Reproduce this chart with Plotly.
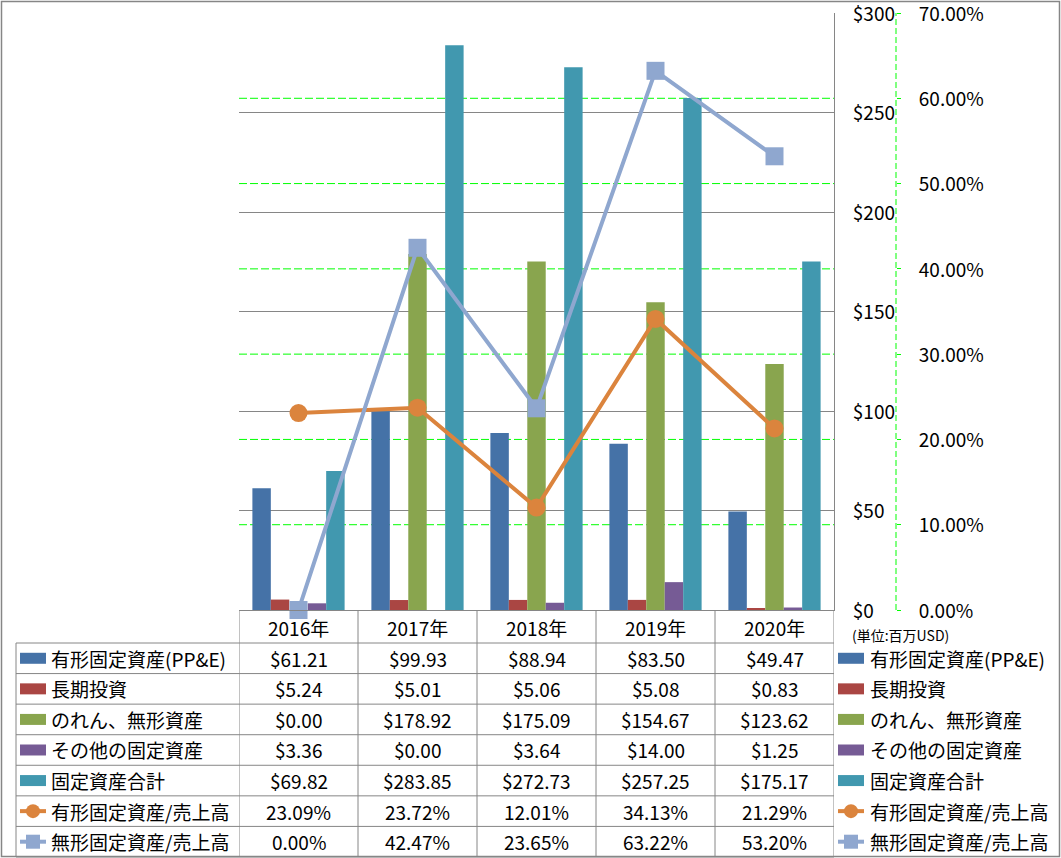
import plotly.graph_objects as go

# ---------------- data ----------------
years = ["2016年", "2017年", "2018年", "2019年", "2020年"]
ppe = [61.21, 99.93, 88.94, 83.50, 49.47]
long_inv = [5.24, 5.01, 5.06, 5.08, 0.83]
goodwill = [0.00, 178.92, 175.09, 154.67, 123.62]
other_fixed = [3.36, 0.00, 3.64, 14.00, 1.25]
total_fixed = [69.82, 283.85, 272.73, 257.25, 175.17]
ppe_ratio = [0.2309, 0.2372, 0.1201, 0.3413, 0.2129]
intang_ratio = [0.0000, 0.4247, 0.2365, 0.6322, 0.5320]

bar_names = ["有形固定資産(PP&E)", "長期投資", "のれん、無形資産", "その他の固定資産", "固定資産合計"]
line_names = ["有形固定資産/売上高", "無形固定資産/売上高"]
unit_label = "(単位:百万USD)"
usd_ticks = [0, 50, 100, 150, 200, 250, 300]
pct_ticks = [0.0, 0.1, 0.2, 0.3, 0.4, 0.5, 0.6, 0.7]

# ---------------- style ----------------
W, H = 1061, 858
bar_colors = ["#4572A7", "#AA4643", "#89A54E", "#765B95", "#4198AF"]
line_colors = ["#DB843D", "#8FA7CF"]
GRID = "#868686"
GREEN = "#00FF00"
FONT = "Noto Sans CJK JP"
FS = 19


def px(x):
    return x / W


def py(y):
    return 1 - y / H


PLOT_L, PLOT_R, PLOT_T, PLOT_B = 239, 834, 13, 610

fig = go.Figure()

bar_series = [ppe, long_inv, goodwill, other_fixed, total_fixed]
for name, vals, col in zip(bar_names, bar_series, bar_colors):
    fig.add_trace(go.Bar(x=years, y=vals, name=name, marker=dict(color=col, line=dict(width=0)),
                         hoverinfo="name+y"))

line_series = [ppe_ratio, intang_ratio]
symbols = ["circle", "square"]
for name, vals, col, sym in zip(line_names, line_series, line_colors, symbols):
    fig.add_trace(go.Scatter(x=years, y=vals, name=name, yaxis="y2", mode="lines+markers",
                             line=dict(color=col, width=4),
                             marker=dict(symbol=sym, size=18, color=col, line=dict(width=0)),
                             cliponaxis=False))

shapes = []
annotations = []

# secondary-axis gridlines (green dashed) drawn beneath the data
for t in pct_ticks[1:-1]:
    shapes.append(dict(type="line", xref="x", yref="y2", x0=-0.5, x1=4.5, y0=t, y1=t, layer="below",
                       line=dict(color=GREEN, width=1, dash="8px,3px")))
# secondary axis dashed line
shapes.append(dict(type="line", xref="paper", yref="y2", x0=px(896), x1=px(896), y0=0, y1=0.7,
                   line=dict(color=GREEN, width=1, dash="6px,3px")))

# ---------------- data table ----------------
HEADER_TOP = 611
ROW_TOP = 643
ROW_H = 30.57
n_rows = len(bar_names) + len(line_names)
TABLE_BOTTOM = ROW_TOP + n_rows * ROW_H

for i in range(len(years) + 1):
    shapes.append(dict(type="line", xref="x", yref="paper", x0=i - 0.5, x1=i - 0.5,
                       y0=py(HEADER_TOP), y1=py(TABLE_BOTTOM), line=dict(color=GRID, width=1)))
shapes.append(dict(type="line", xref="paper", yref="paper", x0=px(16), x1=px(16),
                   y0=py(ROW_TOP), y1=py(TABLE_BOTTOM), line=dict(color=GRID, width=1)))
for r in range(n_rows + 1):
    yy = ROW_TOP + r * ROW_H
    shapes.append(dict(type="line", xref="paper", yref="paper", x0=px(16), x1=px(PLOT_R),
                       y0=py(yy), y1=py(yy), line=dict(color=GRID, width=1)))

for i, yr in enumerate(years):
    annotations.append(dict(x=i, y=py((HEADER_TOP + ROW_TOP) / 2), xref="x", yref="paper",
                            text=yr, showarrow=False, xanchor="center", yanchor="middle",
                            font=dict(family=FONT, size=FS, color="black")))

all_names = bar_names + line_names
all_vals = bar_series + line_series
all_colors = bar_colors + line_colors
for r, (name, vals, col) in enumerate(zip(all_names, all_vals, all_colors)):
    cy = ROW_TOP + (r + 0.5) * ROW_H
    is_line = r >= len(bar_names)
    for i, v in enumerate(vals):
        txt = f"{v * 100:.2f}%" if is_line else f"${v:.2f}"
        annotations.append(dict(x=i, y=py(cy), xref="x", yref="paper", text=txt, showarrow=False,
                                xanchor="center", yanchor="middle",
                                font=dict(family=FONT, size=FS, color="black")))
    for kx, tx in ((20, 49), (838, 868)):
        annotations.append(dict(x=px(tx), y=py(cy), xref="paper", yref="paper", text=name,
                                showarrow=False, xanchor="left", yanchor="middle",
                                font=dict(family=FONT, size=FS, color="black")))
        if not is_line:
            shapes.append(dict(type="rect", xref="paper", yref="paper", x0=px(kx), x1=px(kx + 26),
                               y0=py(cy - 5.5), y1=py(cy + 5.5), fillcolor=col, line=dict(width=0)))
        else:
            shapes.append(dict(type="line", xref="paper", yref="paper", x0=px(kx), x1=px(kx + 26),
                               y0=py(cy), y1=py(cy), line=dict(color=col, width=4)))
            mtype = "circle" if r == len(bar_names) else "rect"
            shapes.append(dict(type=mtype, xref="paper", yref="paper", x0=px(kx + 6), x1=px(kx + 20),
                               y0=py(cy + 7), y1=py(cy - 7), fillcolor=col, line=dict(width=0)))

annotations.append(dict(x=px(850), y=py(634.5), xref="paper", yref="paper", text=unit_label,
                        showarrow=False, xanchor="left", yanchor="middle",
                        font=dict(family=FONT, size=14, color="black")))

shapes.append(dict(type="rect", xref="paper", yref="paper", x0=px(1.5), x1=px(1059.5),
                   y0=py(1.5), y1=py(856.5), line=dict(color=GRID, width=1.5)))

fig.update_layout(
    template="none",
    width=W, height=H, autosize=False,
    margin=dict(l=0, r=0, t=0, b=0, pad=0),
    paper_bgcolor="white", plot_bgcolor="white",
    showlegend=False,
    barmode="group", bargap=0.225, bargroupgap=0,
    font=dict(family=FONT, size=FS, color="black"),
    xaxis=dict(domain=[px(PLOT_L), px(PLOT_R)], type="category", range=[-0.5, 4.5],
               showticklabels=False, ticks="", showgrid=False, zeroline=False, automargin=False,
               showline=True, linecolor=GRID, linewidth=1),
    yaxis=dict(domain=[py(PLOT_B), py(PLOT_T)], range=[0, 300], side="right",
               tickmode="array", tickvals=usd_ticks, ticktext=[f"${t}" for t in usd_ticks],
               showgrid=True, gridcolor=GRID, gridwidth=1, zeroline=False, automargin=False,
               showline=True, linecolor=GRID, linewidth=1, ticks="",
               ticklabeloverflow="allow", ticklabelshift=1,
               ticklabelstandoff=14, tickfont=dict(family=FONT, size=FS, color="black")),
    yaxis2=dict(overlaying="y", anchor="free", position=px(896), side="right",
                range=[0, 0.7], tickmode="array", tickvals=pct_ticks,
                ticktext=[f"{t * 100:.2f}%" for t in pct_ticks],
                showgrid=False, zeroline=False, automargin=False, ticklabeloverflow="allow",
                ticklabelshift=1,
                showline=False, ticks="outside", ticklen=4, tickcolor=GREEN, tickwidth=1,
                ticklabelstandoff=14, tickfont=dict(family=FONT, size=FS, color="black")),
    shapes=shapes,
    annotations=annotations,
)

fig.write_html("out.html")
